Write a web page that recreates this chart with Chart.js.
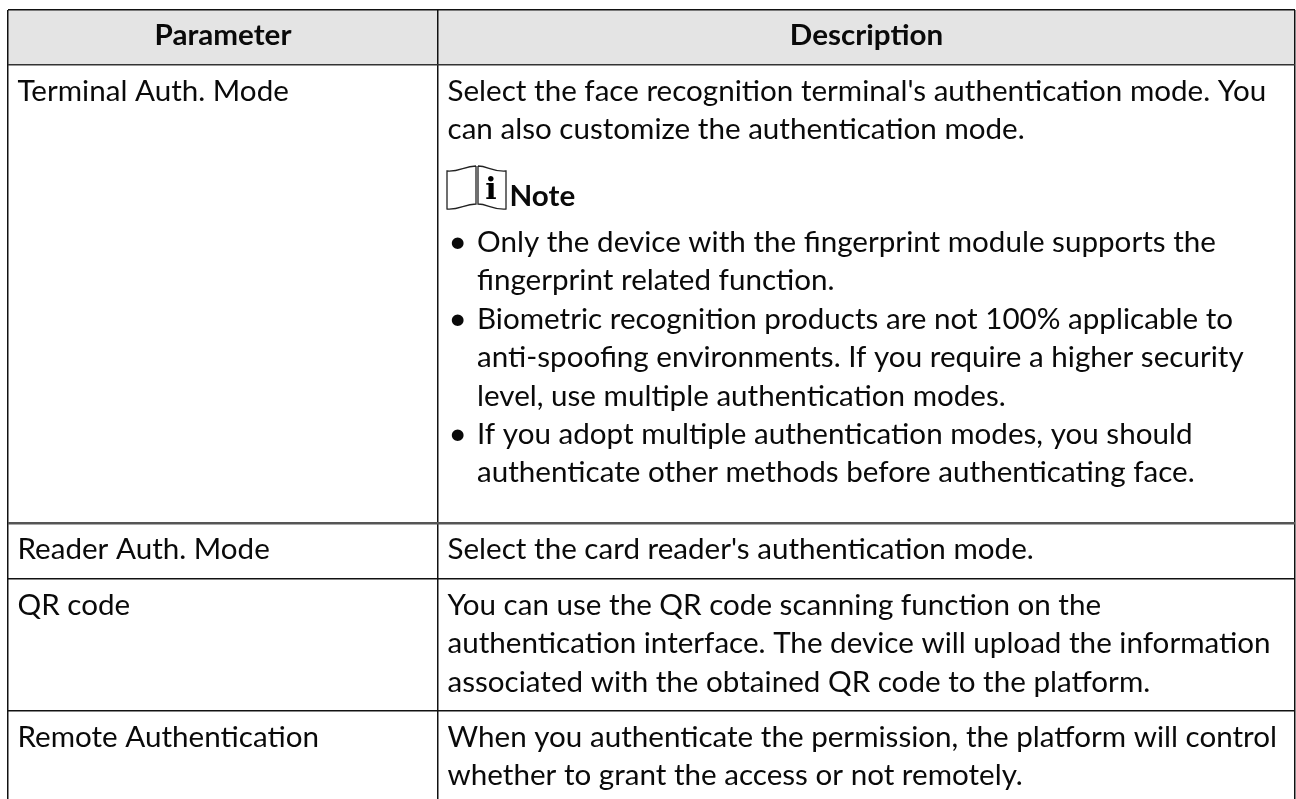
<!DOCTYPE html>
<html>
<head>
<meta charset="utf-8">
<style>
body { margin: 0; background: #fff; }
canvas { display: block; }
</style>
<script src="https://cdn.jsdelivr.net/npm/chart.js@4"></script>
</head>
<body>
<canvas id="tabla" width="1296" height="799"></canvas>
<script>
// column and row borders, read in reference pixels
const columnas = [8, 438, 1295]
const filas = [10, 65, 523, 579, 711]

const encabezados = ['Parameter', 'Description']
const parametros = ['Terminal Auth. Mode', 'Reader Auth. Mode', 'QR code', 'Remote Authentication']
const descripciones = [
    ["Select the face recognition terminal's authentication mode. You", 'can also customize the authentication mode.'],
    ["Select the card reader's authentication mode."],
    ['You can use the QR code scanning function on the', 'authentication interface. The device will upload the information', 'associated with the obtained QR code to the platform.'],
    ['When you authenticate the permission, the platform will control', 'whether to grant the access or not remotely.']
]
const notaTitulo = 'Note'
const notas = [
    ['Only the device with the fingerprint module supports the', 'fingerprint related function.'],
    ['Biometric recognition products are not 100% applicable to', 'anti-spoofing environments. If you require a higher security', 'level, use multiple authentication modes.'],
    ['If you adopt multiple authentication modes, you should', 'authenticate other methods before authenticating face.']
]

const fuente = 'Lato'
const talla = 28
const paso = 38.4
const sangria = 9.5
const escalaX = 1.057

function texto(c, t, x, y, centrado) {
    c.save()
    c.translate(x, y)
    c.scale(escalaX, 1)
    c.textAlign = centrado ? 'center' : 'left'
    c.fillText(t, 0, 0)
    c.restore()
}

function icono(c, x, y) {
    c.save()
    c.strokeStyle = '#222'
    c.lineWidth = 1.3
    c.beginPath()
    // left page
    c.moveTo(x + 30, y + 1)
    c.bezierCurveTo(x + 18, y + 1, x + 14, y + 7, x + 1, y + 6)
    c.lineTo(x + 1, y + 44)
    c.bezierCurveTo(x + 14, y + 45, x + 18, y + 39, x + 30, y + 39)
    c.lineTo(x + 30, y + 1)
    // right page
    c.moveTo(x + 32, y + 1)
    c.bezierCurveTo(x + 42, y + 1, x + 46, y + 7, x + 60, y + 6)
    c.lineTo(x + 60, y + 44)
    c.bezierCurveTo(x + 46, y + 45, x + 42, y + 39, x + 32, y + 39)
    c.lineTo(x + 32, y + 1)
    c.stroke()
    c.fillStyle = '#000'
    c.font = 'bold 30px "DejaVu Serif"'
    c.textAlign = 'center'
    c.fillText('i', x + 45, y + 34)
    c.restore()
}

const textos = {
    id: 'textos',
    afterDraw(chart) {
        const c = chart.ctx
        const sx = chart.scales.x
        const sy = chart.scales.y
        const xIzq = sx.getPixelForValue(columnas[0]) + sangria
        const xDer = sx.getPixelForValue(columnas[1]) + sangria
        c.save()
        c.fillStyle = '#0a0a0a'
        c.textBaseline = 'alphabetic'

        c.font = `bold ${talla}px ${fuente}`
        const yEnc = sy.getPixelForValue(filas[0]) + 35
        texto(c, encabezados[0], (sx.getPixelForValue(columnas[0]) + sx.getPixelForValue(columnas[1])) / 2, yEnc, true)
        texto(c, encabezados[1], (sx.getPixelForValue(columnas[1]) + sx.getPixelForValue(columnas[2])) / 2, yEnc, true)

        c.font = `${talla}px ${fuente}`
        parametros.forEach((p, i) => {
            const y0 = sy.getPixelForValue(filas[i + 1]) + 36
            texto(c, p, xIzq, y0)
            descripciones[i].forEach((l, j) => texto(c, l, xDer, y0 + j * paso))
        })

        // note block inside the first row
        const yNota = sy.getPixelForValue(filas[1]) + 100
        icono(c, xDer - 1.5, yNota)
        c.font = `bold ${talla}px ${fuente}`
        texto(c, notaTitulo, xDer + 62, yNota + 41)
        c.font = `${talla}px ${fuente}`
        let y = yNota + 87
        notas.forEach((nota) => {
            c.font = `30px ${fuente}`
            texto(c, '•', xDer + 1, y)
            c.font = `${talla}px ${fuente}`
            nota.forEach((l) => {
                texto(c, l, xDer + 29.5, y)
                y += paso
            })
        })
        c.restore()
    }
}

const ctx = document.getElementById('tabla').getContext('2d')

new Chart(ctx, {
    type: 'scatter',
    data: {
        datasets: [{
            // grey header band
            data: [{ x: columnas[0], y: filas[0] }, { x: columnas[2], y: filas[0] }],
            showLine: true,
            pointRadius: 0,
            borderWidth: 0,
            backgroundColor: '#e4e4e4',
            fill: { value: filas[1] }
        }]
    },
    options: {
        responsive: false,
        animation: false,
        layout: { padding: { left: columnas[0], top: filas[0], right: 1296 - columnas[2], bottom: 0 } },
        plugins: { legend: { display: false }, tooltip: { enabled: false } },
        scales: {
            x: {
                type: 'linear',
                min: columnas[0],
                max: columnas[2],
                border: { display: false },
                afterBuildTicks: (eje) => { eje.ticks = columnas.map((v) => ({ value: v })) },
                ticks: { display: false },
                grid: {
                    z: 1,
                    color: '#111',
                    lineWidth: 1.5,
                    drawTicks: false
                }
            },
            y: {
                type: 'linear',
                min: filas[0],
                max: 799,
                reverse: true,
                border: { display: false },
                afterBuildTicks: (eje) => { eje.ticks = filas.map((v) => ({ value: v })) },
                ticks: { display: false },
                grid: {
                    z: 1,
                    color: (c) => (c.index === 2 ? '#555' : c.index === 1 ? '#333' : '#111'),
                    lineWidth: (c) => (c.index === 2 ? 2.5 : 1.5),
                    drawTicks: false
                }
            }
        }
    },
    plugins: [textos]
})
</script>
</body>
</html>
